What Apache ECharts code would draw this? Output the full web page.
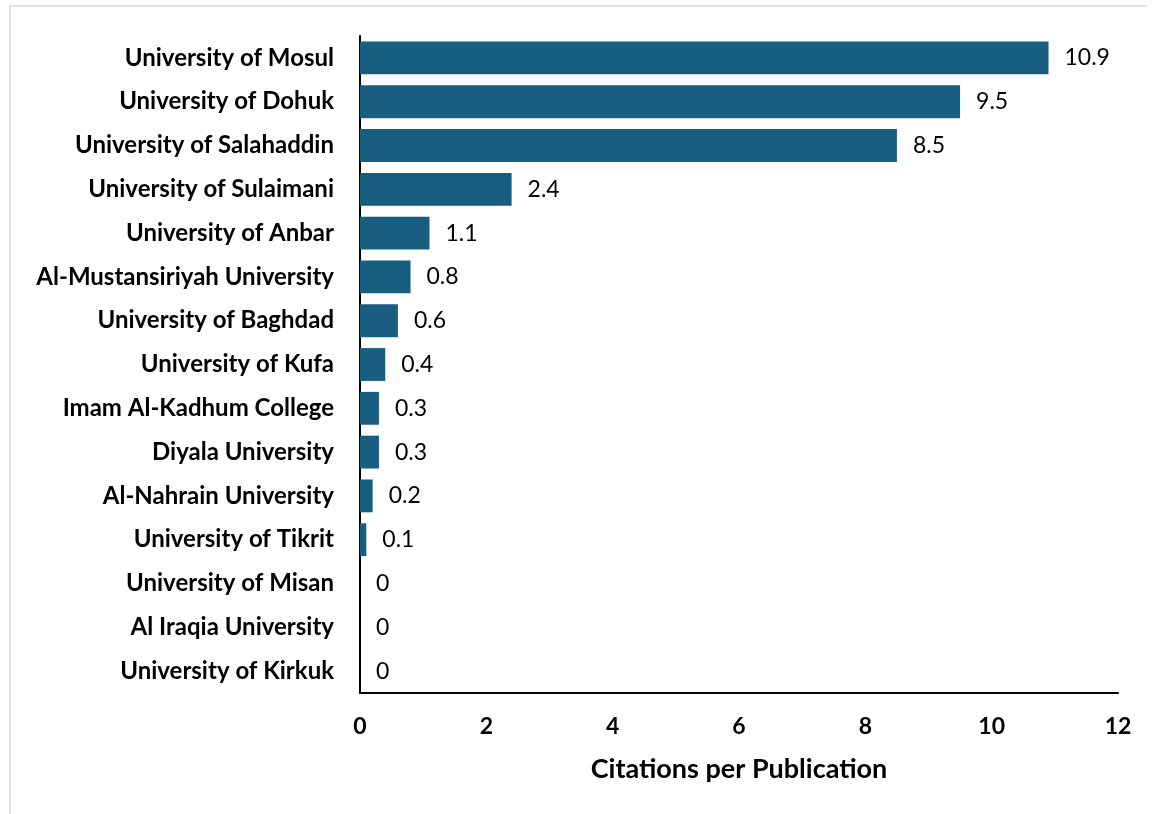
<!DOCTYPE html>
<html>
<head>
<meta charset="utf-8">
<script src="https://cdn.jsdelivr.net/npm/echarts@6/dist/echarts.min.js"></script>
<style>
html,body{margin:0;padding:0;background:#fff;}
#frame{position:absolute;left:9px;top:5px;width:1136px;height:830px;border:2px solid #e3e3e3;border-right:none;border-bottom:none;}
#chart{position:absolute;left:0;top:0;width:1153px;height:814px;}
</style>
</head>
<body>
<div id="frame"></div>
<div id="chart"></div>
<script>
const categories = [
  "University of Mosul","University of Dohuk","University of Salahaddin","University of Sulaimani",
  "University of Anbar","Al-Mustansiriyah University","University of Baghdad","University of Kufa",
  "Imam Al-Kadhum College","Diyala University","Al-Nahrain University","University of Tikrit",
  "University of Misan","Al Iraqia University","University of Kirkuk"
];
const values = [10.9, 9.5, 8.5, 2.4, 1.1, 0.8, 0.6, 0.4, 0.3, 0.3, 0.2, 0.1, 0, 0, 0];
const xTicks = [0, 2, 4, 6, 8, 10, 12];

const chart = echarts.init(document.getElementById('chart'));
chart.setOption({
  animation: false,
  textStyle: {fontFamily: 'Lato'},
  grid: {left: 360, right: 35, top: 36, bottom: 121, containLabel: false},
  xAxis: {
    type: 'value', min: xTicks[0], max: xTicks[xTicks.length-1], interval: 2,
    name: 'Citations per Publication', nameLocation: 'middle', nameGap: 63,
    nameTextStyle: {fontSize: 27, fontWeight: 'bold', color: '#000', fontFamily: 'Lato'},
    axisLine: {show: true, lineStyle: {color: '#000', width: 2}},
    axisTick: {show: false},
    splitLine: {show: false},
    axisLabel: {fontSize: 23, fontWeight: 'bold', color: '#000', margin: 22, fontFamily: 'Lato'}
  },
  yAxis: {
    type: 'category', data: categories, inverse: true,
    axisLine: {show: true, lineStyle: {color: '#000', width: 2}},
    axisTick: {show: false},
    axisLabel: {fontSize: 24, fontWeight: 'bold', color: '#000', margin: 26, fontFamily: 'Lato'}
  },
  series: [{
    type: 'bar', data: values, barCategoryGap: '25%',
    itemStyle: {color: '#185e80'},
    label: {show: true, position: 'right', distance: 16, fontSize: 23, color: '#000', fontFamily: 'Lato'}
  }]
});
</script>
</body>
</html>
